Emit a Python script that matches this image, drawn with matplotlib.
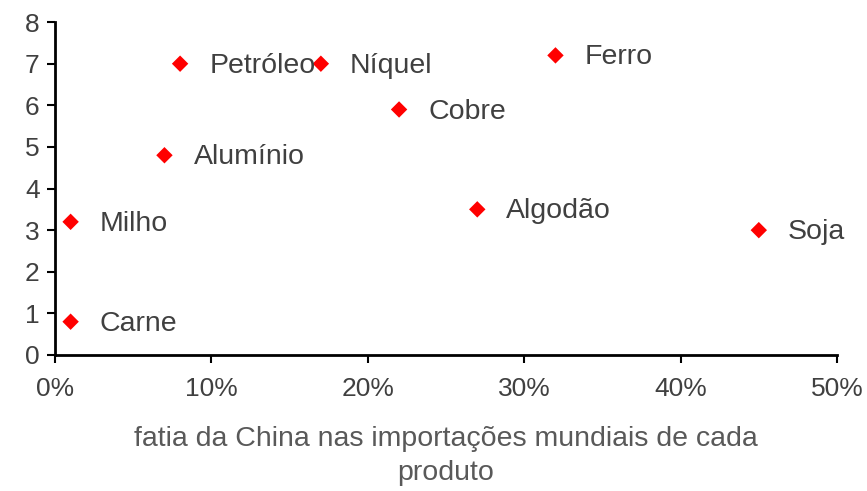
import matplotlib.pyplot as plt
from matplotlib.ticker import FuncFormatter

# dados
produtos = ['Petróleo', 'Níquel', 'Ferro', 'Cobre', 'Alumínio', 'Milho', 'Algodão', 'Soja', 'Carne']
fatia_china = [8, 17, 32, 22, 7, 1, 27, 45, 1]
valores_y = [7.0, 7.0, 7.2, 5.9, 4.8, 3.2, 3.5, 3.0, 0.8]

plt.rcParams['font.family'] = ['Liberation Sans', 'DejaVu Sans']

fig = plt.figure(figsize=(8.67, 4.91), dpi=100)
ax = fig.add_axes([0.0634, 0.277, 0.902, 0.678])

ax.scatter(fatia_china, valores_y, marker='D', s=70, color='#ff0000', edgecolors='none', zorder=3)

for nome, x, y in zip(produtos, fatia_china, valores_y):
    ax.annotate(nome, (x, y), xytext=(21, -1.5), textcoords='offset points',
                ha='left', va='center', fontsize=20.5, color='#404040')

ax.set_xlim(0, 50)
ax.set_ylim(0, 8)
ax.set_xticks(range(0, 51, 10))
ax.set_yticks(range(0, 9))
ax.xaxis.set_major_formatter(FuncFormatter(lambda v, p: '%d%%' % v))

for s in ['top', 'right']:
    ax.spines[s].set_visible(False)
for s in ['left', 'bottom']:
    ax.spines[s].set_linewidth(2)
    ax.spines[s].set_color('black')

ax.tick_params(direction='out', length=6, width=1.5, colors='black', labelcolor='#404040', labelsize=19)
ax.tick_params(axis='x', pad=10)
ax.tick_params(axis='y', pad=5)

ax.set_xlabel('fatia da China nas importações mundiais de cada\nproduto', fontsize=20.5, color='#595959', labelpad=18, linespacing=1.4)

fig.savefig('out.png', dpi=100)
